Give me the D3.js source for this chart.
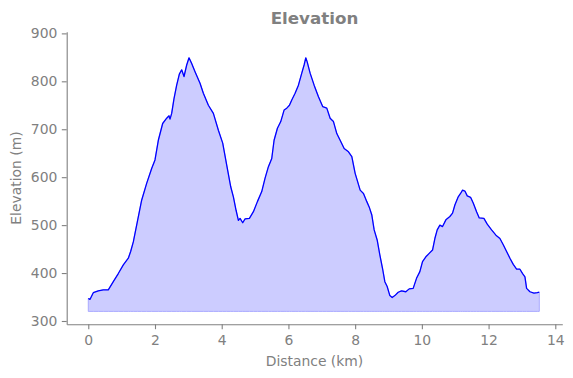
<!DOCTYPE html>
<html>
<head>
<meta charset="utf-8">
<script src="https://cdn.jsdelivr.net/npm/d3@7"></script>
<style>
  body { margin: 0; background: #fff; }
  svg { display: block; font-family: "DejaVu Sans", sans-serif; }
</style>
</head>
<body>
<svg id="chart" width="573" height="378"></svg>
<script>
// distance along the route (km) and elevation (m)
const distKm = [
  0, 0.05, 0.15, 0.3, 0.45, 0.6, 0.75, 0.9, 1.05, 1.2,
  1.27, 1.35, 1.47, 1.6, 1.75, 1.9, 2.0, 2.1, 2.23, 2.35,
  2.42, 2.45, 2.5, 2.57, 2.65, 2.73, 2.8, 2.87, 2.95, 3.02,
  3.1, 3.2, 3.35, 3.45, 3.6, 3.75, 3.9, 4.03, 4.15, 4.27,
  4.35, 4.43, 4.5, 4.55, 4.63, 4.7, 4.83, 4.95, 5.07, 5.2,
  5.3, 5.4, 5.5, 5.57, 5.67, 5.77, 5.87, 5.95, 6.03, 6.1,
  6.2, 6.3, 6.4, 6.47, 6.52, 6.56, 6.65, 6.77, 6.9, 7.03,
  7.15, 7.25, 7.35, 7.45, 7.55, 7.67, 7.8, 7.9, 8.0, 8.15,
  8.25, 8.35, 8.42, 8.5, 8.57, 8.66, 8.74, 8.82, 8.89, 8.96,
  9.04, 9.11, 9.19, 9.29, 9.39, 9.52, 9.62, 9.74, 9.84, 9.94,
  10.02, 10.12, 10.22, 10.32, 10.39, 10.46, 10.54, 10.62, 10.72, 10.84,
  10.92, 10.99, 11.09, 11.16, 11.22, 11.29, 11.36, 11.46, 11.54, 11.64,
  11.72, 11.86, 11.96, 12.09, 12.22, 12.34, 12.44, 12.54, 12.64, 12.74,
  12.84, 12.94, 13.02, 13.09, 13.14, 13.24, 13.36, 13.46, 13.52
];
const elevM = [
  347, 345, 359, 363, 365, 365, 382, 399, 417, 431,
  445, 465, 507, 552, 587, 618, 636, 677, 712, 723,
  728, 721, 733, 764, 792, 815, 824, 810, 834, 849,
  837, 820, 796, 775, 750, 733, 698, 671, 625, 580,
  559, 531, 510, 514, 505, 513, 514, 528, 549, 570,
  598, 622, 639, 677, 702, 716, 740, 744, 750, 761,
  775, 792, 817, 834, 849, 841, 817, 792, 768, 747,
  744, 723, 716, 691, 677, 660, 653, 643, 608, 573,
  566, 549, 538, 521, 490, 469, 438, 410, 382, 372,
  353, 349, 353, 360, 363, 361, 367, 368, 389, 403,
  424, 434, 441, 448, 472, 490, 500, 497, 511, 518,
  525, 542, 559, 566, 573, 571, 561, 558, 546, 528,
  515, 514, 502, 490, 479, 472, 459, 445, 431, 418,
  408, 408, 399, 392, 368, 361, 358, 359, 360
];
const fillBase = 320;
const xTicks = [0, 2, 4, 6, 8, 10, 12, 14];
const yTicks = [300, 400, 500, 600, 700, 800, 900];

const svg = d3.select("#chart");
const margin = { top: 31.7, right: 10.7, bottom: 53.7, left: 66.7 };
const width = +svg.attr("width") - margin.left - margin.right;
const height = +svg.attr("height") - margin.top - margin.bottom;
const grey = "#808080";

const points = distKm.map((d, i) => ({ d: d, e: elevM[i] }));

const x = d3.scaleLinear().domain([-0.647, 14.21]).range([0, width]);
const y = d3.scaleLinear().domain([293.1, 903.5]).range([height, 0]);

const g = svg.append("g")
  .attr("transform", `translate(${margin.left},${margin.top})`);

// filled profile
const area = d3.area()
  .x(p => x(p.d))
  .y0(y(fillBase))
  .y1(p => y(p.e));

g.append("path")
  .datum(points)
  .attr("d", area)
  .attr("fill", "rgb(204,204,255)")
  .attr("stroke", "rgb(170,170,255)")
  .attr("stroke-width", 1);

const line = d3.line()
  .x(p => x(p.d))
  .y(p => y(p.e));

g.append("path")
  .datum(points)
  .attr("d", line)
  .attr("fill", "none")
  .attr("stroke", "#0000ff")
  .attr("stroke-width", 1.3)
  .attr("stroke-linejoin", "round");

// axes
const xAxis = g.append("g")
  .attr("transform", `translate(0,${height})`)
  .call(d3.axisBottom(x).tickValues(xTicks).tickSize(4.9).tickPadding(4.5).tickSizeOuter(0));

const yAxis = g.append("g")
  .call(d3.axisLeft(y).tickValues(yTicks).tickSize(4.9).tickPadding(4.5).tickSizeOuter(0));

[xAxis, yAxis].forEach(a => {
  a.select(".domain").attr("stroke", grey).attr("stroke-width", 1.1);
  a.selectAll(".tick line").attr("stroke", grey).attr("stroke-width", 1.1);
  a.selectAll(".tick text")
    .attr("fill", grey)
    .style("font-size", "13.9px")
    .style("font-family", "DejaVu Sans, sans-serif");
});
xAxis.selectAll(".tick text").attr("dy", "0.78em");

// labels
svg.append("text")
  .attr("x", margin.left + width / 2)
  .attr("y", 24)
  .attr("text-anchor", "middle")
  .attr("fill", grey)
  .style("font-size", "16.7px")
  .style("font-weight", "bold")
  .text("Elevation");

svg.append("text")
  .attr("x", margin.left + width / 2)
  .attr("y", 366)
  .attr("text-anchor", "middle")
  .attr("fill", grey)
  .style("font-size", "13.9px")
  .text("Distance (km)");

svg.append("text")
  .attr("transform", `translate(21,${margin.top + height / 2}) rotate(-90)`)
  .attr("text-anchor", "middle")
  .attr("fill", grey)
  .style("font-size", "13.9px")
  .text("Elevation (m)");
</script>
</body>
</html>
